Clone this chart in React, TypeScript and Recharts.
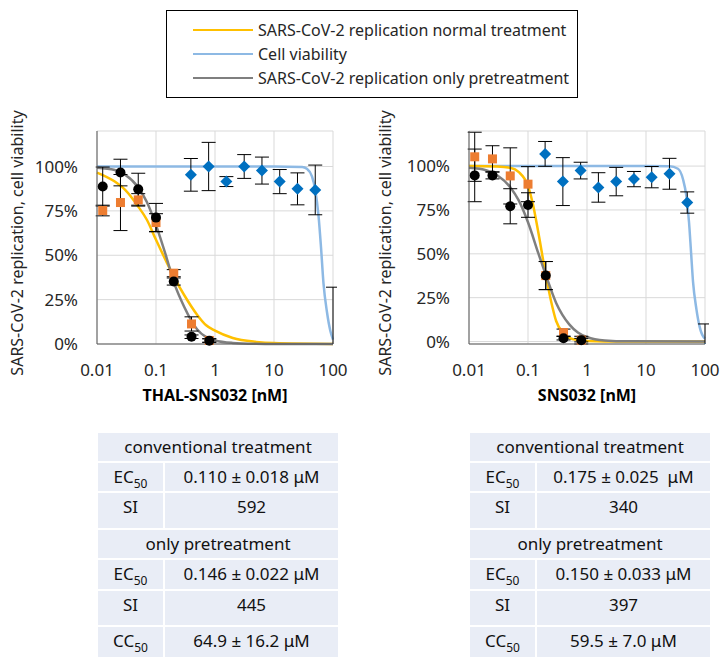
import { ComposedChart, Line, Scatter, XAxis, YAxis, CartesianGrid, ErrorBar, Label } from "recharts";

// doses (nM)
const DOSES = [0.0125, 0.025, 0.05, 0.1, 0.2, 0.4, 0.8];
const X_TICKS = [0.01, 0.1, 1, 10, 100];
const Y_TICKS = [0, 0.25, 0.5, 0.75, 1];

// THAL-SNS032 measurements
const THAL_NORMAL = [0.752, 0.797, 0.812, 0.684, 0.399, 0.113, 0.02];
const THAL_NORMAL_ERR = [0.03, 0.158, 0.035, 0.05, 0.02, 0.04, 0.01];
const THAL_PRE = [0.887, 0.966, 0.872, 0.712, 0.352, 0.041, 0.019];
const THAL_PRE_ERR = [0.11, 0.075, 0.09, 0.08, 0.02, 0.01, 0.01];
const THAL_VIA_DOSES = [0.39, 0.78, 1.56, 3.125, 6.25, 12.5, 25, 50, 100];
const THAL_VIA = [0.953, 1.0, 0.915, 1.0, 0.977, 0.915, 0.874, 0.868, -0.05];
const THAL_VIA_ERR = [0.092, 0.136, 0.028, 0.067, 0.076, 0.068, 0.09, 0.14, 0.37];

// SNS032 measurements
const SNS_NORMAL = [1.053, 1.041, 0.944, 0.897, 0.376, 0.051, 0.008];
const SNS_NORMAL_ERR = [0.14, 0.075, 0.16, 0.1, 0.08, 0.02, 0.01];
const SNS_PRE = [0.947, 0.947, 0.771, 0.778, 0.376, 0.019, 0.008];
const SNS_PRE_ERR = [0.15, 0.02, 0.1, 0.07, 0.08, 0.01, 0.022];
const SNS_VIA_DOSES = [0.195, 0.39, 0.78, 1.56, 3.125, 6.25, 12.5, 25, 50, 100];
const SNS_VIA = [1.071, 0.915, 0.977, 0.882, 0.915, 0.929, 0.94, 0.959, 0.797, -0.03];
const SNS_VIA_ERR = [0.07, 0.135, 0.047, 0.083, 0.08, 0.043, 0.06, 0.087, 0.06, 0.143];

// fitted curves
const FIT_DOSES = [0.01, 0.02, 0.03, 0.05, 0.07, 0.1, 0.15, 0.2, 0.3, 0.5, 0.7, 1, 2, 5, 10, 100];
const THAL_NORMAL_FIT = [0.966, 0.915, 0.868, 0.774, 0.7, 0.587, 0.464, 0.38, 0.276, 0.164, 0.107, 0.075, 0.034, 0.012, 0.005, 0];
const THAL_PRE_FIT = [0.993, 0.98, 0.953, 0.882, 0.8, 0.67, 0.49, 0.35, 0.21, 0.082, 0.04, 0.02, 0.006, 0.001, 0, 0];
const THAL_VIA_FIT_DOSES = [0.01, 1, 10, 30, 36, 44, 50, 57, 62.5, 69, 79, 90, 100];
const THAL_VIA_FIT = [1, 1, 1, 0.997, 0.987, 0.944, 0.868, 0.718, 0.549, 0.342, 0.18, 0.075, 0.025];

const SNS_NORMAL_FIT_DOSES = [0.01, 0.03, 0.05, 0.07, 0.1, 0.12, 0.15, 0.2, 0.25, 0.3, 0.4, 0.5, 0.7, 1, 2, 100];
const SNS_NORMAL_FIT = [1.0, 0.998, 0.99, 0.965, 0.887, 0.79, 0.62, 0.38, 0.22, 0.117, 0.047, 0.021, 0.008, 0.003, 0.0005, 0];
const SNS_PRE_FIT_DOSES = [0.01, 0.02, 0.03, 0.05, 0.07, 0.1, 0.15, 0.2, 0.3, 0.5, 0.7, 1, 2, 5, 100];
const SNS_PRE_FIT = [0.99, 0.975, 0.948, 0.88, 0.803, 0.68, 0.502, 0.38, 0.22, 0.098, 0.052, 0.026, 0.006, 0.001, 0];
const SNS_VIA_FIT_DOSES = [0.01, 1, 10, 25, 34.8, 42.4, 48.3, 53.6, 58, 62.7, 71.5, 81, 95, 100];
const SNS_VIA_FIT = [1, 1, 1, 0.999, 0.985, 0.925, 0.83, 0.68, 0.51, 0.34, 0.185, 0.085, 0.025, 0.018];

const LEGEND = [
  { label: "SARS-CoV-2 replication normal treatment", color: "#FFC000" },
  { label: "Cell viability", color: "#8DB9E4" },
  { label: "SARS-CoV-2 replication only pretreatment", color: "#7F7F7F" },
];

const THAL_TABLE = ["0.110 ± 0.018 μM", "592", "0.146 ± 0.022 μM", "445", "64.9 ± 16.2 μM"];
const SNS_TABLE = ["0.175 ± 0.025  μM", "340", "0.150 ± 0.033 μM", "397", "59.5 ± 7.0 μM"];

const pts = (xs: number[], ys: number[], es?: number[]) =>
  xs.map((x, i) => ({ x, y: ys[i], e: es ? es[i] : 0 }));

const FONT = '"Noto Sans", sans-serif';
const TEXT = "#262626";
const PLOT_W = 236;
const PLOT_TOP = 131;
const PLOT_H = 213;

const Square = (p: any) => <rect x={p.cx - 4.5} y={p.cy - 4.5} width={9} height={9} fill="#ED7D31" />;
const Dot = (p: any) => <circle cx={p.cx} cy={p.cy} r={5} fill="#000" />;
const Diamond = (p: any) => (
  <path
    d={`M${p.cx} ${p.cy - 6}L${p.cx + 6} ${p.cy}L${p.cx} ${p.cy + 6}L${p.cx - 6} ${p.cy}Z`}
    fill="#0070C0"
  />
);

function Panel(props: {
  id: string;
  left: number;
  axisWidth: number;
  right: number;
  titleX: number;
  xTitle: string;
  normal: any[];
  pre: any[];
  via: any[];
  normalFit: any[];
  preFit: any[];
  viaFit: any[];
}) {
  const { id, left, axisWidth, right, titleX, xTitle } = props;
  const clip = `via-clip-${id}`;
  return (
    <div style={{ position: "absolute", left, top: 0 }}>
      {/* clip region for the viability error bars (values below 0% are cut off, as in the source) */}
      <svg width={0} height={0} style={{ position: "absolute" }}>
        <defs>
          <clipPath id={clip}>
            <rect x={axisWidth} y={PLOT_TOP} width={PLOT_W + 4} height={PLOT_H} />
          </clipPath>
        </defs>
      </svg>
      <ComposedChart
        width={axisWidth + PLOT_W + right}
        height={420}
        margin={{ top: PLOT_TOP, right, left: 0, bottom: 0 }}
        style={{ fontFamily: FONT }}
      >
        <CartesianGrid stroke="#D9D9D9" />
        <XAxis
          dataKey="x"
          type="number"
          scale="log"
          domain={[0.01, 100]}
          ticks={X_TICKS}
          interval={0}
          tickFormatter={(v: number) => String(v)}
          tickLine={false}
          tickSize={0}
          tickMargin={20}
          height={76}
          axisLine={{ stroke: "#595959" }}
          tick={{ fill: TEXT, fontSize: 17 }}
        >
          <Label
            value={xTitle}
            position="insideBottom"
            offset={19}
            style={{ fontWeight: 700, fontSize: 16, fill: "#000" }}
          />
        </XAxis>
        <YAxis
          dataKey="y"
          type="number"
          domain={[0, 1.2]}
          ticks={Y_TICKS}
          width={axisWidth}
          tickFormatter={(v: number) => `${Math.round(v * 100)}%`}
          tickLine={false}
          tickSize={0}
          tickMargin={19}
          axisLine={{ stroke: "#595959" }}
          tick={{ fill: TEXT, fontSize: 17 }}
        >
          <Label
            content={() => (
              <text
                x={titleX}
                y={243}
                transform={`rotate(-90 ${titleX} 243)`}
                textAnchor="middle"
                dominantBaseline="central"
                fontSize={16}
                fill={TEXT}
              >
                SARS-CoV-2 replication, cell viability
              </text>
            )}
          />
        </YAxis>
        <YAxis yAxisId="v" dataKey="y" type="number" domain={[0, 1.2]} allowDataOverflow hide />

        <Line data={props.viaFit} dataKey="y" type="monotone" stroke="#8DB9E4" strokeWidth={2.5} dot={false} isAnimationActive={false} />
        <Line data={props.normalFit} dataKey="y" type="monotone" stroke="#FFC000" strokeWidth={2.5} dot={false} isAnimationActive={false} />
        <Line data={props.preFit} dataKey="y" type="monotone" stroke="#7F7F7F" strokeWidth={2.5} dot={false} isAnimationActive={false} />

        <Scatter data={props.normal} dataKey="y" shape={Square} isAnimationActive={false}>
          <ErrorBar dataKey="e" direction="y" width={7} stroke="#000" strokeWidth={1} />
        </Scatter>
        <Scatter data={props.pre} dataKey="y" shape={Dot} isAnimationActive={false}>
          <ErrorBar dataKey="e" direction="y" width={7} stroke="#000" strokeWidth={1} />
        </Scatter>
        <Scatter data={props.via} dataKey="y" yAxisId="v" shape={Diamond} isAnimationActive={false}>
          <ErrorBar dataKey="e" direction="y" width={7} stroke="#000" strokeWidth={1} clipPath={`url(#${clip})`} />
        </Scatter>
      </ComposedChart>
    </div>
  );
}

const ROW_H = [28, 28, 35, 28, 29, 34, 30];
const CELL = "#E9EDF6";

function Sub({ base }: { base: string }) {
  return (
    <span>
      {base}
      <sub style={{ fontSize: 12, verticalAlign: "-5px", lineHeight: 0 }}>50</sub>
    </span>
  );
}

function StatsTable({ left, values }: { left: number; values: string[] }) {
  const cell = (content: any, span = false) => (
    <div
      style={{
        background: CELL,
        gridColumn: span ? "1 / span 2" : undefined,
        textAlign: "center",
        lineHeight: "28px",
        whiteSpace: "pre",
      }}
    >
      {content}
    </div>
  );
  return (
    <div
      style={{
        position: "absolute",
        left,
        top: 433,
        display: "grid",
        gridTemplateColumns: "65px 173px",
        gridTemplateRows: ROW_H.map((h) => `${h}px`).join(" "),
        gap: 2,
        fontSize: 17,
        color: "#111",
      }}
    >
      {cell("conventional treatment", true)}
      {cell(<Sub base="EC" />)}
      {cell(values[0])}
      {cell("SI")}
      {cell(values[1])}
      {cell("only pretreatment", true)}
      {cell(<Sub base="EC" />)}
      {cell(values[2])}
      {cell("SI")}
      {cell(values[3])}
      {cell(<Sub base="CC" />)}
      {cell(values[4])}
    </div>
  );
}

export default function App() {
  return (
    <div
      style={{
        position: "absolute",
        left: 0,
        top: 0,
        width: 728,
        height: 668,
        background: "#fff",
        fontFamily: FONT,
      }}
    >
      <div
        style={{
          position: "absolute",
          left: 166,
          top: 10,
          width: 412,
          height: 88,
          border: "1.5px solid #000",
          boxSizing: "border-box",
          paddingTop: 7,
        }}
      >
        {LEGEND.map((l) => (
          <div key={l.label} style={{ display: "flex", alignItems: "center", height: 24, fontSize: 16, color: TEXT }}>
            <span style={{ display: "inline-block", marginLeft: 26, width: 60, height: 2.5, background: l.color }} />
            <span style={{ marginLeft: 5 }}>{l.label}</span>
          </div>
        ))}
      </div>

      <Panel
        id="thal"
        left={0}
        axisWidth={97}
        right={27}
        titleX={17}
        xTitle="THAL-SNS032 [nM]"
        normal={pts(DOSES, THAL_NORMAL, THAL_NORMAL_ERR)}
        pre={pts(DOSES, THAL_PRE, THAL_PRE_ERR)}
        via={pts(THAL_VIA_DOSES, THAL_VIA, THAL_VIA_ERR)}
        normalFit={pts(FIT_DOSES, THAL_NORMAL_FIT)}
        preFit={pts(FIT_DOSES, THAL_PRE_FIT)}
        viaFit={pts(THAL_VIA_FIT_DOSES, THAL_VIA_FIT)}
      />
      <Panel
        id="sns"
        left={360}
        axisWidth={109}
        right={23}
        titleX={25}
        xTitle="SNS032 [nM]"
        normal={pts(DOSES, SNS_NORMAL, SNS_NORMAL_ERR)}
        pre={pts(DOSES, SNS_PRE, SNS_PRE_ERR)}
        via={pts(SNS_VIA_DOSES, SNS_VIA, SNS_VIA_ERR)}
        normalFit={pts(SNS_NORMAL_FIT_DOSES, SNS_NORMAL_FIT)}
        preFit={pts(SNS_PRE_FIT_DOSES, SNS_PRE_FIT)}
        viaFit={pts(SNS_VIA_FIT_DOSES, SNS_VIA_FIT)}
      />

      <StatsTable left={98} values={THAL_TABLE} />
      <StatsTable left={470} values={SNS_TABLE} />
    </div>
  );
}
